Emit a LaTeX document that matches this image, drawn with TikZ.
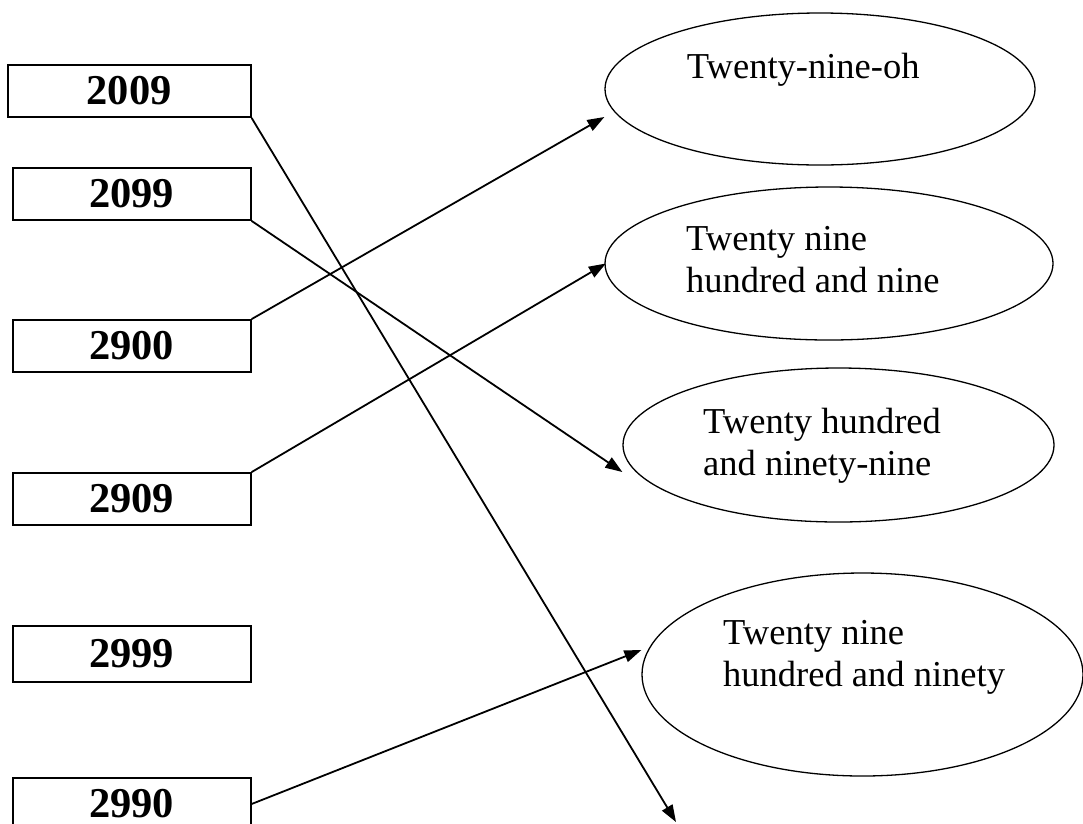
\documentclass[tikz,border=0pt]{standalone}
\usepackage{fontspec}
\setmainfont{Liberation Serif}
\usetikzlibrary{arrows.meta,shapes.geometric}
\begin{document}
\begin{tikzpicture}[x=1pt,y=-1pt,
  numbox/.style={draw, line width=1.8pt, minimum width=238pt, minimum height=52pt, inner sep=0pt,
    font=\bfseries\fontsize{42.5}{48}\selectfont},
  oval/.style={draw, ellipse, line width=1.3pt, inner sep=0pt},
  lbl/.style={anchor=north west, align=left, inner sep=0pt, font=\fontsize{36.5}{42}\selectfont},
  conn/.style={line width=1.8pt, -{Triangle[length=17pt,width=12pt]}}]
\useasboundingbox (0,0) rectangle (1083,823);

\node[numbox, minimum width=243pt] (b2009) at (129.2,91) {2009};
\node[numbox] (b2099) at (131.7,194) {2099};
\node[numbox] (b2900) at (131.7,346) {2900};
\node[numbox] (b2909) at (131.7,499) {2909};
\node[numbox, minimum height=56pt] (b2999) at (131.7,654) {2999};
\node[numbox] (b2990) at (131.7,804) {2990};

\node[oval, minimum width=430pt, minimum height=152pt] (e1) at (820,89) {};
\node[lbl] (t1) at (686.7,53) {Twenty-nine-oh};
\node[oval, minimum width=448pt, minimum height=153pt] (e2) at (829,263.5) {};
\node[lbl] (t2) at (686,226) {Twenty nine\\hundred and nine};
\node[oval, minimum width=431pt, minimum height=154pt] (e3) at (838.5,445) {};
\node[lbl] (t3) at (703,408) {Twenty hundred\\and ninety-nine};
\node[oval, minimum width=441pt, minimum height=203pt] (e4) at (862.5,674.5) {};
\node[lbl] (t4) at (723,620) {Twenty nine\\hundred and ninety};

\coordinate (end2009) at (676,822);
\draw[conn] (b2009.south east) -- (end2009);
\draw[conn] (b2099.south east) -- ([yshift=-27pt]e3.west);
\draw[conn] (b2900.north east) -- ([yshift=-28pt]e1.west);
\draw[conn] (b2909.north east) -- ([xshift=1.5pt]e2.west);
\draw[conn] (b2990.east) -- ([yshift=24.5pt]e4.west);
\end{tikzpicture}
\end{document}
